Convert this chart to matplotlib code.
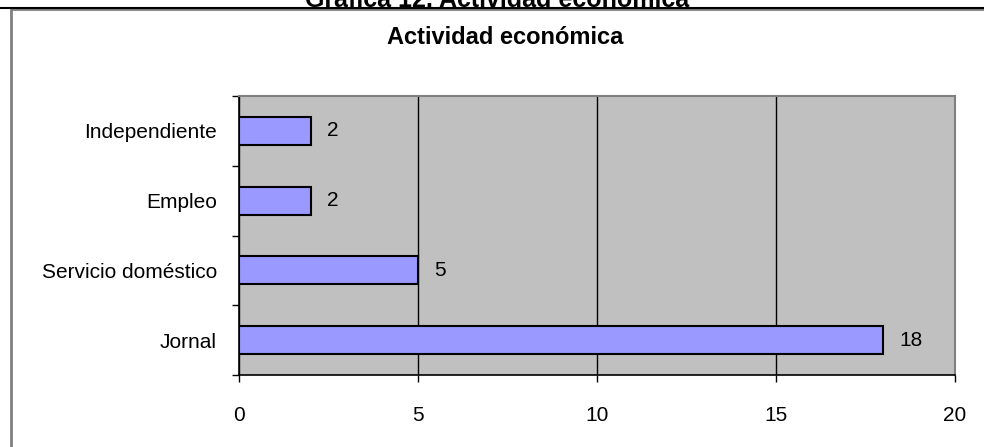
import matplotlib.pyplot as plt

plt.rcParams['font.family'] = ['Liberation Sans', 'DejaVu Sans']

categorias = ['Jornal', 'Servicio doméstico', 'Empleo', 'Independiente']
valores = [18, 5, 2, 2]
xticks = [0, 5, 10, 15, 20]

fig = plt.figure(figsize=(9.84, 4.47), dpi=100)

# marco del grafico (recortado a la derecha y abajo)
frame = plt.Rectangle((11 / 984, -0.1), 1.1, 1 - 9 / 447 + 0.1, transform=fig.transFigure,
                      facecolor='white', edgecolor='#808080', linewidth=2, zorder=-5)
fig.patches.append(frame)
fig.add_artist(plt.Line2D([0, 1], [1 - 7.5 / 447] * 2, color='black', lw=1.5,
                          transform=fig.transFigure, zorder=-4))

fig.text(497 / 984, 1 - 7 / 447, 'Gráfica 12. Actividad económica', ha='center', va='baseline',
         fontsize=18, fontweight='bold')
fig.text(505 / 984, 1 - 44 / 447, 'Actividad económica', ha='center', va='baseline',
         fontsize=17, fontweight='bold')

ax = fig.add_axes([239 / 984, 1 - 375 / 447, (955 - 239) / 984, (375 - 96) / 447])
ax.set_facecolor('#C0C0C0')

pos = range(len(categorias))
ax.barh(pos, valores, height=0.4, color='#9999FF', edgecolor='black', linewidth=1.5, zorder=3)
for i, v in enumerate(valores):
    ax.text(v + 0.45, i, str(v), va='center', ha='left', fontsize=15)

ax.set_xlim(0, 20)
ax.set_ylim(-0.5, len(categorias) - 0.5)
ax.set_xticks(xticks)
ax.set_xticklabels([str(t) for t in xticks], fontsize=15)
ax.set_yticks(list(pos))
ax.set_yticklabels(categorias, fontsize=15)
ax.set_yticks([i - 0.5 for i in range(len(categorias) + 1)], minor=True)
ax.tick_params(axis='y', which='major', length=0, pad=16)
ax.tick_params(axis='y', which='minor', length=5, width=1)
ax.tick_params(axis='x', length=5, width=1, pad=17)
ax.xaxis.grid(True, color='black', linewidth=1)
ax.set_axisbelow(True)

for s in ['left', 'bottom']:
    ax.spines[s].set_color('black')
    ax.spines[s].set_linewidth(1.2)
for s in ['right', 'top']:
    ax.spines[s].set_color('#808080')
    ax.spines[s].set_linewidth(1.5)

plt.savefig('out.png', dpi=100)
